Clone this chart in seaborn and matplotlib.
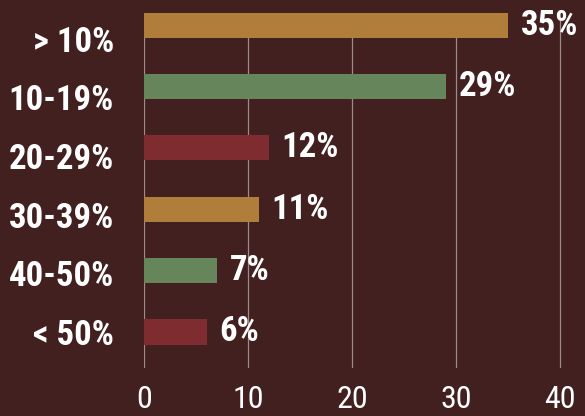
import numpy as np
import pandas as pd
import seaborn as sns
import matplotlib.pyplot as plt
from matplotlib import font_manager

categories = ["> 10%", "10-19%", "20-29%", "30-39%", "40-50%", "< 50%"]
values = [35, 29, 12, 11, 7, 6]
colors = ["#B07E3A", "#66855B", "#7F2C30", "#B07E3A", "#66855B", "#7F2C30"]

bg = "#42201F"
df = pd.DataFrame({"group": categories, "share": values})

# look for a narrow font, otherwise condensed DejaVu
have = {f.name for f in font_manager.fontManager.ttflist}
narrow = [n for n in ["Liberation Sans Narrow", "Roboto Condensed", "DejaVu Sans Condensed"] if n in have]

sns.set_style("white")
if narrow:
    plt.rcParams["font.family"] = [narrow[0], "DejaVu Sans"]
    big, small = 25, 23
else:
    plt.rcParams["font.family"] = ["DejaVu Sans"]
    plt.rcParams["font.stretch"] = "condensed"
    big, small = 19, 18

fig = plt.figure(figsize=(5.85, 4.16), dpi=100, facecolor=bg)
ax = fig.add_axes([0.247, 0.115, 0.746, 0.854])
ax.set_facecolor(bg)

sns.barplot(data=df, x="share", y="group", hue="group", palette=colors,
            order=categories, width=0.41, saturation=1, legend=False,
            linewidth=0, edgecolor="none", ax=ax, zorder=3)

ax.set_xlim(0, 42)
ax.set_ylim(5.59, -0.2)
ax.set_xticks([0, 10, 20, 30, 40])
# category labels sit on a slightly tighter spacing than the bars
n = len(categories)
idx = np.arange(n)
ax.set_yticks(idx + 0.22 * (1 - idx / (n - 1)), categories)
ax.xaxis.grid(True, color="#9C8C8A", linewidth=0.9, zorder=1)
ax.yaxis.grid(False)
for s in ax.spines.values():
    s.set_visible(False)
ax.set_xlabel("")
ax.set_ylabel("")
ax.tick_params(axis="x", colors="white", labelsize=small, length=0, pad=12)
ax.tick_params(axis="y", colors="white", labelsize=big, length=0, pad=22)
for lab in ax.get_yticklabels():
    lab.set_fontweight("bold")

for i, v in enumerate(values):
    ax.text(v + 1.2, i, f"{v}%", color="white", fontsize=big, fontweight="bold",
            va="center", ha="left", zorder=4)

fig.savefig("out.png", dpi=100, facecolor=bg)
